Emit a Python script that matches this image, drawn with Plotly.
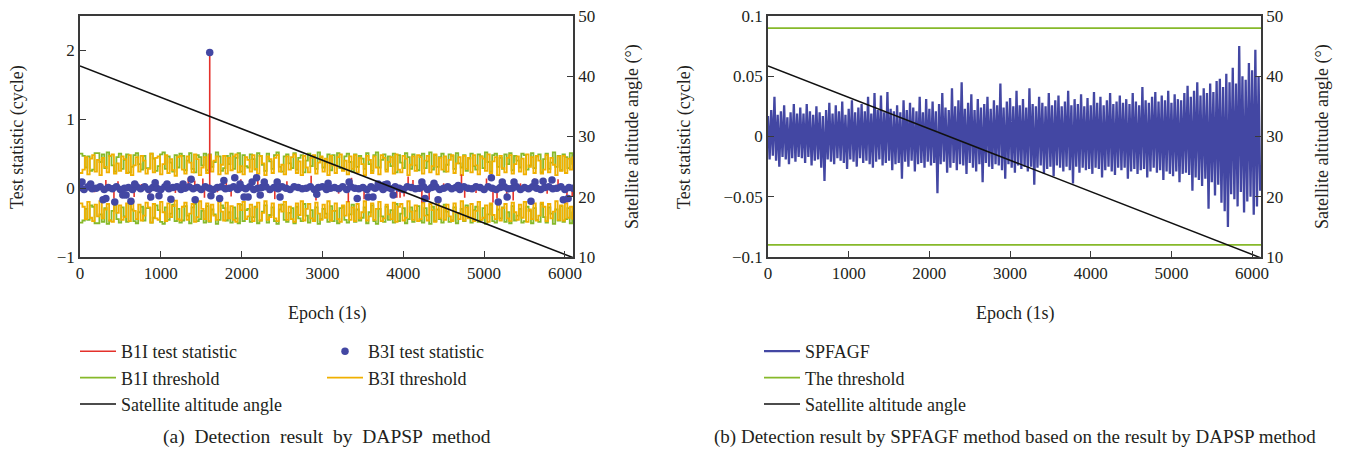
import plotly.graph_objects as go
from plotly.subplots import make_subplots

# ---------------- data ----------------
epoch_step_thr = 30          # epochs between threshold samples
epoch_step_b3i = 50          # epochs between B3I core samples
epoch_step_spf = 20          # epochs between SPFAGF samples

b1i_threshold = [
    0.50,0.47,0.30,0.46,0.25,0.27,0.51,0.51,0.38,0.49,0.29,0.52,0.47,0.33,0.24,0.45,0.50,0.28,0.41,0.49,
    0.23,0.31,0.48,0.51,0.35,0.27,0.47,0.29,0.29,0.50,0.43,0.25,0.32,0.49,0.52,0.28,0.46,0.37,0.24,0.48,
    0.30,0.50,0.47,0.26,0.40,0.51,0.28,0.23,0.48,0.45,0.33,0.50,0.26,0.49,0.31,0.38,0.52,0.46,0.25,0.29,
    0.47,0.35,0.50,0.28,0.44,0.51,0.24,0.48,0.32,0.30,0.49,0.42,0.27,0.51,0.47,0.34,0.25,0.50,0.39,0.28,
    0.48,0.52,0.31,0.24,0.46,0.49,0.36,0.29,0.51,0.27,0.44,0.48,0.23,0.40,0.50,0.32,0.47,0.28,0.52,0.45,
    0.30,0.37,0.49,0.26,0.48,0.33,0.51,0.29,0.27,0.46,0.50,0.38,0.24,0.49,0.31,0.47,0.43,0.28,0.51,0.35,
    0.25,0.48,0.52,0.30,0.41,0.49,0.27,0.46,0.32,0.50,0.23,0.48,0.37,0.29,0.51,0.45,0.28,0.49,0.33,0.26,
    0.47,0.50,0.29,0.39,0.52,0.27,0.48,0.31,0.45,0.50,0.24,0.34,0.49,0.47,0.28,0.51,0.36,0.30,0.48,0.25,
    0.43,0.50,0.32,0.27,0.49,0.46,0.29,0.52,0.38,0.24,0.48,0.50,0.31,0.44,0.28,0.49,0.35,0.51,0.26,0.47,
    0.40,0.30,0.50,0.48,0.27,0.33,0.51,0.29,0.46,0.49,0.23,0.42,0.50,0.28,0.37,0.52,0.31,0.47,0.26,0.49,
    0.45,0.29,0.51,0.34]

b3i_threshold = [
    0.22,0.27,0.45,0.20,0.43,0.48,0.24,0.41,0.19,0.44,0.31,0.23,0.47,0.49,0.21,0.36,0.25,0.46,0.42,0.22,
    0.48,0.19,0.33,0.45,0.24,0.47,0.40,0.21,0.28,0.50,0.23,0.44,0.46,0.20,0.35,0.48,0.22,0.42,0.26,0.18,
    0.45,0.47,0.27,0.21,0.46,0.37,0.23,0.49,0.42,0.19,0.30,0.45,0.22,0.48,0.24,0.40,0.46,0.20,0.34,0.47,
    0.21,0.44,0.26,0.46,0.49,0.23,0.32,0.20,0.45,0.41,0.24,0.48,0.28,0.21,0.47,0.36,0.19,0.46,0.42,0.22,
    0.44,0.48,0.24,0.34,0.20,0.46,0.27,0.45,0.49,0.22,0.39,0.19,0.47,0.30,0.23,0.44,0.48,0.21,0.37,0.46,
    0.24,0.43,0.19,0.47,0.33,0.22,0.45,0.49,0.25,0.40,0.20,0.46,0.28,0.48,0.23,0.44,0.35,0.19,0.47,0.41,
    0.22,0.46,0.30,0.20,0.48,0.44,0.24,0.38,0.45,0.21,0.49,0.27,0.23,0.47,0.43,0.19,0.34,0.46,0.25,0.48,
    0.45,0.21,0.40,0.47,0.23,0.32,0.49,0.20,0.44,0.27,0.46,0.24,0.41,0.48,0.22,0.36,0.45,0.19,0.47,0.28,
    0.44,0.23,0.48,0.33,0.20,0.46,0.43,0.25,0.49,0.22,0.39,0.45,0.19,0.47,0.29,0.23,0.44,0.48,0.21,0.35,
    0.46,0.24,0.43,0.20,0.49,0.31,0.45,0.22,0.47,0.40,0.21,0.27,0.48,0.23,0.44,0.34,0.19,0.46,0.25,0.47,
    0.22,0.43,0.27,0.46]

b1i_stat_epochs = [75, 180, 320, 420, 470, 530, 670, 760, 860, 960, 1065, 1180, 1340, 1420, 1520, 1540, 1605,
    1700, 1810, 1870, 1990, 2100, 2200, 2330, 2410, 2560, 2700, 2860, 2920, 3050, 3200, 3320, 3360,
    3515, 3700, 3920, 3960, 4010, 4060, 4120, 4230, 4320, 4500, 4720, 4760, 4900, 5030, 5110, 5160,
    5280, 5360, 5450, 5620, 5780, 5915, 6025, 6090]
b1i_stat_values = [0.05, -0.06, 0.12, -0.15, 0.10, -0.12, -0.13, 0.06, -0.18, 0.07, 0.10, -0.07, 0.15, 0.11, 0.14, -0.14, 1.97,
    -0.06, 0.10, -0.12, 0.13, 0.07, 0.13, -0.07, -0.16, 0.10, 0.06, 0.18, -0.18, 0.07, -0.08, -0.20, 0.15,
    -0.16, 0.06, -0.14, -0.14, -0.12, 0.17, 0.12, -0.21, -0.17, 0.07, 0.20, -0.14, -0.07, 0.14, -0.21, -0.15,
    -0.17, -0.18, 0.07, 0.14, -0.08, 0.13, -0.21, -0.12]

b3i_stat_core = [0.01,-0.02,0.02,-0.01,0.00,0.02,-0.02,0.01,-0.01,0.02,-0.02,0.00,0.01,-0.02,0.02,-0.01,0.02,-0.02,0.01,0.00,
    -0.02,0.02,-0.01,0.01,0.02,-0.02,0.00,0.02,-0.01,0.01,-0.02,0.02,0.00,-0.02,0.01,0.02,-0.01,0.00,0.02,-0.02,
    0.01,-0.01,0.02,-0.02,0.00,0.01,0.02,-0.02,0.01,-0.01,0.02,0.00,-0.02,0.02,0.01,-0.01,0.00,0.02,-0.02,0.01,
    0.02,-0.02,0.00,0.01,-0.01,0.02,-0.02,0.02,0.00,-0.01,0.01,-0.02,0.02,0.00,0.02,-0.02,0.01,-0.01,0.02,0.00,
    -0.02,0.02,0.01,-0.01,0.00,0.02,-0.02,0.01,0.02,-0.02,0.00,0.02,-0.01,0.01,-0.02,0.02,0.00,-0.01,0.02,0.01,
    -0.02,0.02,0.00,-0.02,0.01,0.02,-0.01,0.00,0.02,-0.02,0.01,-0.01,0.02,0.00,-0.02,0.01,0.02,-0.01,0.00,0.02,
    -0.02,0.01,0.00]

b3i_outlier_epochs = [25, 132, 285, 320, 430, 530, 570, 630, 677, 875, 930, 977, 1077, 1125, 1275, 1375, 1425,
    1605, 1620, 1728, 1780, 1915, 1980, 2030, 2080, 2130, 2185, 2230, 2280, 2440, 2475, 2930, 3070,
    3330, 3430, 3565, 3625, 3690, 3770, 3800, 3875, 4230, 4270, 4380, 4430, 4680, 5090, 5175, 5225,
    5285, 5370, 5580, 5630, 5730, 5840, 5980, 6040]
b3i_outlier_values = [0.09, 0.06, -0.17, -0.15, -0.20, -0.10, -0.10, -0.19, 0.06, -0.13, 0.08, -0.11, 0.06, -0.16, 0.06, 0.13, -0.17,
    1.97, -0.11, -0.15, 0.11, 0.15, 0.06, -0.13, -0.13, 0.09, 0.15, -0.10, 0.09, 0.09, -0.13, -0.09, 0.07,
    0.09, -0.15, -0.13, -0.13, 0.06, 0.05, 0.06, -0.10, 0.09, -0.15, 0.07, -0.17, 0.04, 0.15, -0.20, 0.09,
    -0.13, 0.09, -0.19, 0.09, 0.10, 0.12, -0.17, -0.15]

spfagf = [
    0.017,-0.019,0.022,-0.016,0.033,-0.020,0.018,-0.025,0.021,-0.017,0.026,-0.019,0.016,-0.023,0.020,-0.018,0.027,-0.021,0.019,-0.017,
    0.024,-0.018,0.019,-0.022,0.027,-0.017,0.021,-0.024,0.018,-0.020,0.025,-0.019,0.020,-0.026,0.017,-0.037,0.022,-0.019,0.028,-0.021,
    0.019,-0.023,0.026,-0.018,0.021,-0.020,0.029,-0.022,0.018,-0.027,0.023,-0.019,0.030,-0.021,0.020,-0.025,0.024,-0.018,0.027,-0.022,
    0.021,-0.020,0.033,-0.023,0.019,-0.026,0.036,-0.021,0.022,-0.019,0.034,-0.024,0.020,-0.022,0.037,-0.020,0.023,-0.028,0.021,-0.023,
    0.026,-0.022,0.020,-0.035,0.030,-0.021,0.022,-0.025,0.028,-0.020,0.024,-0.029,0.021,-0.023,0.033,-0.022,0.020,-0.026,0.031,-0.021,
    0.023,-0.024,0.029,-0.022,0.021,-0.047,0.027,-0.023,0.036,-0.021,0.024,-0.030,0.022,-0.026,0.040,-0.022,0.025,-0.028,0.030,-0.023,
    0.045,-0.024,0.023,-0.031,0.028,-0.022,0.035,-0.026,0.022,-0.029,0.031,-0.023,0.024,-0.038,0.027,-0.022,0.033,-0.025,0.023,-0.027,
    0.030,-0.023,0.026,-0.024,0.044,-0.028,0.024,-0.035,0.029,-0.023,0.032,-0.026,0.025,-0.030,0.038,-0.024,0.026,-0.027,0.031,-0.025,
    0.024,-0.029,0.040,-0.025,0.027,-0.040,0.025,-0.026,0.033,-0.024,0.028,-0.031,0.025,-0.027,0.036,-0.025,0.026,-0.033,0.030,-0.024,
    0.034,-0.026,0.025,-0.029,0.029,-0.025,0.038,-0.028,0.026,-0.039,0.031,-0.025,0.027,-0.030,0.035,-0.026,0.025,-0.028,0.032,-0.027,
    0.026,-0.031,0.037,-0.026,0.028,-0.027,0.033,-0.034,0.026,-0.028,0.030,-0.025,0.036,-0.029,0.027,-0.032,0.029,-0.026,0.034,-0.028,
    0.028,-0.026,0.031,-0.035,0.027,-0.029,0.036,-0.027,0.029,-0.031,0.026,-0.028,0.041,-0.027,0.030,-0.034,0.028,-0.029,0.033,-0.026,
    0.037,-0.030,0.029,-0.028,0.034,-0.036,0.030,-0.029,0.038,-0.031,0.028,-0.033,0.035,-0.029,0.031,-0.038,0.030,-0.031,0.036,-0.030,
    0.042,-0.032,0.033,-0.045,0.038,-0.034,0.045,-0.036,0.034,-0.041,0.040,-0.035,0.036,-0.060,0.044,-0.038,0.037,-0.049,0.046,-0.040,
    0.048,-0.055,0.041,-0.062,0.052,-0.075,0.045,-0.048,0.057,-0.052,0.044,-0.058,0.075,-0.046,0.050,-0.063,0.047,-0.054,0.061,-0.050,
    0.055,-0.065,0.072,-0.058,0.050,-0.045]

spfagf_threshold = 0.09

angle_epochs = [0, 1000, 2000, 3000, 4000, 5000, 6000, 6100]
angle_values = [41.7, 36.5, 31.3, 26.1, 20.9, 15.7, 10.5, 9.9]

# ---------------- styles ----------------
RED = "#e4312b"
GREEN = "#86b92a"
ORANGE = "#f0b000"
BLUE = "#4347a3"
BLACK = "#111111"
AXC = "#3a3a3a"
TXT = "#231f20"
FONT = "Liberation Serif"
W, H = 1350, 455

def px(x):
    return x / W

def py(y):
    return 1 - y / H

fig = make_subplots(rows=1, cols=2, specs=[[{"secondary_y": True}, {"secondary_y": True}]])

# --- left panel ---
thr_x = [i * epoch_step_thr for i in range(len(b1i_threshold))]
fig.add_trace(go.Scatter(x=thr_x + [None] + thr_x,
                         y=b1i_threshold + [None] + [-v for v in b1i_threshold],
                         mode="lines", line=dict(color=GREEN, width=1.8, shape="hv"),
                         name="B1I threshold", legend="legend", legendrank=2, legendgroup="g2"),
              row=1, col=1, secondary_y=False)
thr_x3 = [i * epoch_step_thr for i in range(len(b3i_threshold))]
fig.add_trace(go.Scatter(x=thr_x3 + [None] + thr_x3,
                         y=b3i_threshold + [None] + [-v for v in b3i_threshold],
                         mode="lines", line=dict(color=ORANGE, width=1.8, shape="hv"),
                         name="B3I threshold", legend="legend3", legendrank=2, legendgroup="o2"),
              row=1, col=1, secondary_y=False)

sx, sy = [], []
for e, v in zip(b1i_stat_epochs, b1i_stat_values):
    sx += [e, e, None]
    sy += [0, v, None]
fig.add_trace(go.Scatter(x=sx, y=sy, mode="lines", line=dict(color=RED, width=1.6),
                         name="B1I test statistic", legend="legend", legendrank=1, legendgroup="g1"),
              row=1, col=1, secondary_y=False)

core_x = [i * epoch_step_b3i for i in range(len(b3i_stat_core))]
fig.add_trace(go.Scatter(x=core_x + b3i_outlier_epochs, y=b3i_stat_core + b3i_outlier_values,
                         mode="markers", marker=dict(color=BLUE, size=7.5, line=dict(width=0)),
                         name="B3I test statistic", legend="legend3", legendrank=1, legendgroup="o1"),
              row=1, col=1, secondary_y=False)

fig.add_trace(go.Scatter(x=angle_epochs, y=angle_values, mode="lines", line=dict(color=BLACK, width=1.5),
                         name="Satellite altitude angle", legend="legend", legendrank=3, legendgroup="g3"),
              row=1, col=1, secondary_y=True)

# --- right panel ---
spf_x = [i * epoch_step_spf for i in range(len(spfagf))]
fig.add_trace(go.Scatter(x=spf_x, y=spfagf, mode="lines", line=dict(color=BLUE, width=2.3),
                         name="SPFAGF", legend="legend2", legendrank=1, legendgroup="s1"),
              row=1, col=2, secondary_y=False)
fig.add_trace(go.Scatter(x=[0, 6110, None, 0, 6110],
                         y=[spfagf_threshold, spfagf_threshold, None, -spfagf_threshold, -spfagf_threshold],
                         mode="lines", line=dict(color=GREEN, width=1.8),
                         name="The threshold", legend="legend2", legendrank=2, legendgroup="s2"),
              row=1, col=2, secondary_y=False)
fig.add_trace(go.Scatter(x=angle_epochs, y=angle_values, mode="lines", line=dict(color=BLACK, width=1.5),
                         name="Satellite altitude angle", legend="legend2", legendrank=3, legendgroup="s3"),
              row=1, col=2, secondary_y=True)

axis_common = dict(showline=True, linecolor=AXC, linewidth=1.5, ticks="inside", ticklen=6,
                   tickwidth=1.2, tickcolor=AXC, showgrid=False, zeroline=False, automargin=False,
                   tickfont=dict(size=17, family=FONT, color=TXT))

x_ticks = [0, 1000, 2000, 3000, 4000, 5000, 6000]
ydom = [py(257), py(16)]

legend_common = dict(xanchor="left", yanchor="top", bgcolor="rgba(0,0,0,0)", itemwidth=36,
                     traceorder="grouped", tracegroupgap=0, font=dict(size=18, family=FONT, color=TXT))

fig.update_layout(
    width=W, height=H,
    margin=dict(l=0, r=0, t=0, b=0, autoexpand=False),
    paper_bgcolor="white", plot_bgcolor="white",
    font=dict(family=FONT, size=17, color=TXT),
    xaxis=dict(domain=[px(80), px(573)], range=[0, 6100], tickvals=x_ticks, mirror=True, **axis_common),
    yaxis=dict(domain=ydom, range=[-1, 2.5], tickvals=[-1, 0, 1, 2], **axis_common),
    yaxis2=dict(range=[10, 50], tickvals=[10, 20, 30, 40, 50], **axis_common),
    xaxis2=dict(domain=[px(768), px(1261)], range=[0, 6110], tickvals=x_ticks, mirror=True, **axis_common),
    yaxis3=dict(domain=ydom, range=[-0.1, 0.1], tickvals=[-0.1, -0.05, 0, 0.05, 0.1],
                ticktext=["\u22120.1", "\u22120.05", "0", "0.05", "0.1"], **axis_common),
    yaxis4=dict(range=[10, 50], tickvals=[10, 20, 30, 40, 50], **axis_common),
    legend=dict(x=px(75), y=py(333), **legend_common),
    legend3=dict(x=px(322), y=py(333), **legend_common),
    legend2=dict(x=px(759), y=py(333), **legend_common),
)

annotations = [
    dict(text="Test statistic (cycle)", x=px(17), y=py(137), textangle=-90, size=18),
    dict(text="Satellite altitude angle (°)", x=px(632), y=py(137), textangle=-90, size=18),
    dict(text="Test statistic (cycle)", x=px(684), y=py(137), textangle=-90, size=18),
    dict(text="Satellite altitude angle (°)", x=px(1322), y=py(137), textangle=-90, size=18),
    dict(text="Epoch (1s)", x=px(327), y=py(313), size=18),
    dict(text="Epoch (1s)", x=px(1015), y=py(313), size=18),
    dict(text="(a)  Detection  result  by  DAPSP  method", x=px(327), y=py(437), size=19.5),
    dict(text="(b) Detection result by SPFAGF method based on the result by DAPSP method", x=px(1015), y=py(437), size=19),
]
for a in annotations:
    size = a.pop("size")
    fig.add_annotation(xref="paper", yref="paper", showarrow=False, xanchor="center", yanchor="middle",
                       font=dict(size=size, family=FONT, color=TXT), **a)

fig.write_html("out.html", config={"displayModeBar": False},
               post_script="document.body.style.margin='0px';document.documentElement.style.overflow='hidden';")
